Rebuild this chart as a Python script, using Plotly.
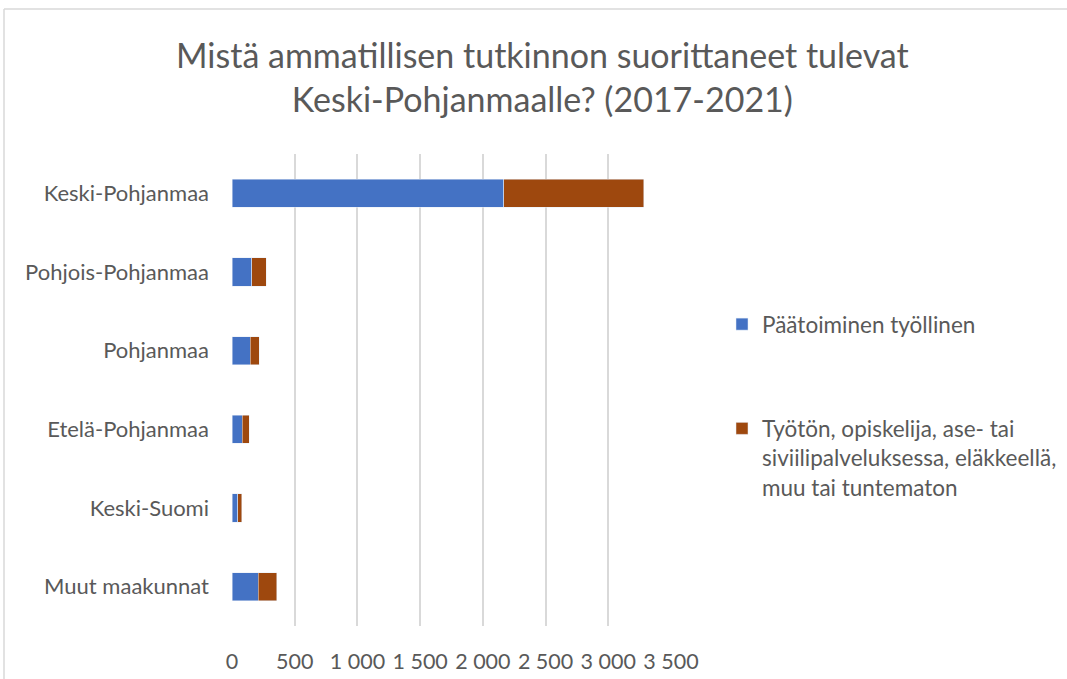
import plotly.graph_objects as go

regions = ["Keski-Pohjanmaa", "Pohjois-Pohjanmaa", "Pohjanmaa",
           "Etelä-Pohjanmaa", "Keski-Suomi", "Muut maakunnat"]
employed = [2165, 157, 144, 80, 45, 210]
other = [1118, 115, 72, 56, 32, 147]
series_names = ["Päätoiminen työllinen",
                "Työtön, opiskelija, ase- tai<br>siviilipalveluksessa, eläkkeellä,<br>muu tai tuntematon"]
tick_vals = [0, 500, 1000, 1500, 2000, 2500, 3000, 3500]
tick_text = ["0", "500", "1 000", "1 500", "2 000", "2 500", "3 000", "3 500"]
title_text = "Mistä ammatillisen tutkinnon suorittaneet tulevat<br>Keski-Pohjanmaalle? (2017-2021)"

FONT = "Lato"
TXT = "#595959"

fig = go.Figure()
fig.add_trace(go.Bar(y=regions, x=employed, orientation="h", name=series_names[0],
                     marker=dict(color="#4472C4"), legendgroup="a"))
fig.add_trace(go.Bar(y=regions, x=other, orientation="h", name=series_names[1],
                     marker=dict(color="#9E480E"), legendgroup="b"))

L, R, T, B = 232, 1067 - 671, 154, 679 - 626
PW, PH = 671 - 232, 626 - 154

def px_x(p):
    return (p - L) / PW

def px_y(p):
    return 1 - (p - T) / PH

border = dict(color="#d9d9d9", width=1.5)
fig.update_layout(
    width=1067, height=679,
    barmode="stack", bargap=0.64,
    paper_bgcolor="white", plot_bgcolor="white",
    margin=dict(l=L, r=R, t=T, b=B, autoexpand=False),
    font=dict(family=FONT, color=TXT, size=22),
    xaxis=dict(range=[0, 3500], tickvals=tick_vals, ticktext=tick_text,
               showgrid=True, gridcolor="#d9d9d9", gridwidth=1.5, zeroline=False,
               showline=False, ticks="", ticklabelstandoff=20, automargin=False,
               tickfont=dict(size=21.5, color=TXT)),
    yaxis=dict(autorange="reversed", showgrid=False, showline=False, ticks="",
               ticklabelstandoff=22, automargin=False,
               tickfont=dict(size=22, color=TXT)),
    legend=dict(x=px_x(722), xanchor="left", y=px_y(303), yanchor="top",
                traceorder="grouped", tracegroupgap=72, valign="top",
                font=dict(size=22.5, color=TXT), itemwidth=30,
                bgcolor="rgba(0,0,0,0)"),
    annotations=[dict(text=title_text, xref="paper", yref="paper",
                      x=px_x(542), xanchor="center",
                      y=px_y(77), yanchor="middle", showarrow=False,
                      font=dict(family=FONT, size=34, color=TXT))],
    shapes=[
        dict(type="line", xref="paper", yref="paper",
             x0=px_x(4), x1=px_x(1080), y0=px_y(9), y1=px_y(9), line=border, layer="below"),
        dict(type="line", xref="paper", yref="paper",
             x0=px_x(4), x1=px_x(4), y0=px_y(9), y1=px_y(700), line=border, layer="below"),
    ],
)

fig.write_html("out.html", config={"displayModeBar": False},
               post_script="document.body.style.margin='0';")
